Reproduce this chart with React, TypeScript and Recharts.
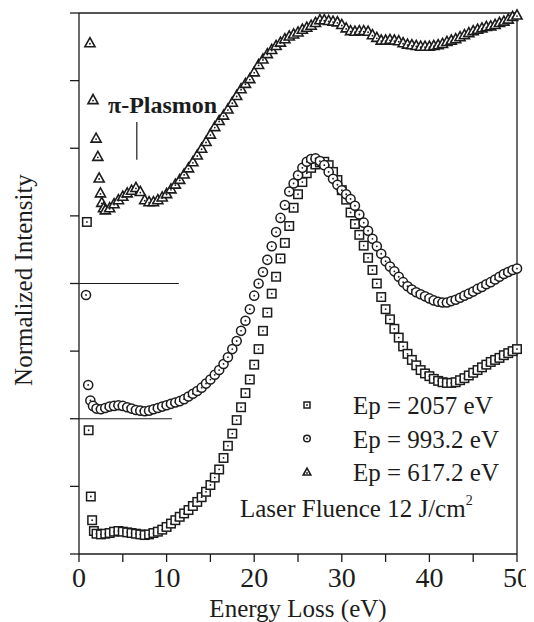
import { ScatterChart, Scatter, XAxis, YAxis, ReferenceLine } from 'recharts';

const FONT = "'Times New Roman', Times, serif";
const INK = '#1c1c1c';

// energy grid (eV) shared by the three spectra
const energyGrid = [
  2, 2.5, 3, 3.5, 4, 4.5, 5, 5.5, 6, 6.5, 7, 7.5, 8, 8.5, 9, 9.5, 10, 10.5, 11, 11.5,
  12, 12.5, 13, 13.5, 14, 14.5, 15, 15.5, 16, 16.5, 17, 17.5, 18, 18.5, 19, 19.5, 20, 20.5, 21, 21.5,
  22, 22.5, 23, 23.5, 24, 24.5, 25, 25.5, 26, 26.5, 27, 27.5, 28, 28.5, 29, 29.5, 30, 30.5, 31, 31.5,
  32, 32.5, 33, 33.5, 34, 34.5, 35, 35.5, 36, 36.5, 37, 37.5, 38, 38.5, 39, 39.5, 40, 40.5, 41, 41.5,
  42, 42.5, 43, 43.5, 44, 44.5, 45, 45.5, 46, 46.5, 47, 47.5, 48, 48.5, 49, 49.5, 50,
];

// Ep = 2057 eV (squares)
const ep2057LeadEnergy = [0.9, 1.1, 1.35, 1.5, 1.7];
const ep2057LeadValues = [4.91, 1.83, 0.85, 0.5, 0.34];
const ep2057Values = [
  0.30, 0.29, 0.30, 0.31, 0.33, 0.34, 0.33, 0.32, 0.31, 0.30,
  0.29, 0.28, 0.29, 0.31, 0.33, 0.36, 0.40, 0.45, 0.50, 0.55,
  0.60, 0.65, 0.71, 0.77, 0.84, 0.92, 1.02, 1.13, 1.25, 1.42,
  1.60, 1.78, 1.98, 2.17, 2.38, 2.58, 2.80, 3.03, 3.30, 3.57,
  3.85, 4.10, 4.37, 4.60, 4.85, 5.12, 5.32, 5.50, 5.63, 5.71,
  5.76, 5.79, 5.80, 5.75, 5.65, 5.53, 5.38, 5.24, 5.05, 4.88,
  4.72, 4.56, 4.38, 4.20, 4.00, 3.80, 3.62, 3.47, 3.33, 3.20,
  3.07, 2.96, 2.87, 2.79, 2.72, 2.67, 2.63, 2.59, 2.56, 2.54,
  2.53, 2.53, 2.54, 2.57, 2.60, 2.64, 2.68, 2.72, 2.76, 2.80,
  2.84, 2.87, 2.90, 2.94, 2.97, 3.00, 3.03,
];

// Ep = 993.2 eV (circles)
const ep993LeadEnergy = [0.8, 1.05, 1.3, 1.6];
const ep993LeadValues = [3.83, 2.5, 2.27, 2.19];
const ep993Values = [
  2.15, 2.14, 2.16, 2.18, 2.19, 2.20, 2.19, 2.17, 2.15, 2.13,
  2.12, 2.11, 2.12, 2.14, 2.16, 2.18, 2.20, 2.22, 2.24, 2.26,
  2.29, 2.33, 2.37, 2.41, 2.46, 2.52, 2.58, 2.65, 2.72, 2.81,
  2.91, 3.03, 3.15, 3.30, 3.45, 3.62, 3.82, 4.00, 4.17, 4.35,
  4.55, 4.76, 4.97, 5.16, 5.36, 5.48, 5.60, 5.71, 5.80, 5.84,
  5.85, 5.81, 5.75, 5.65, 5.55, 5.46, 5.38, 5.32, 5.25, 5.15,
  5.02, 4.90, 4.78, 4.66, 4.55, 4.44, 4.33, 4.25, 4.18, 4.10,
  4.02, 3.96, 3.91, 3.87, 3.84, 3.81, 3.78, 3.75, 3.73, 3.72,
  3.72, 3.74, 3.76, 3.79, 3.82, 3.85, 3.88, 3.92, 3.95, 3.99,
  4.02, 4.06, 4.10, 4.14, 4.17, 4.20, 4.22,
];

// Ep = 617.2 eV (triangles), grid part starts at 3 eV
const ep617LeadEnergy = [1.25, 1.6, 1.95, 2.15, 2.3, 2.45, 2.6, 2.8];
const ep617LeadValues = [7.56, 6.72, 6.15, 5.88, 5.56, 5.34, 5.2, 5.12];
const ep617Values = [
  5.09, 5.12, 5.18, 5.24, 5.29, 5.34, 5.38, 5.42,
  5.36, 5.24, 5.21, 5.21, 5.24, 5.28, 5.33, 5.40, 5.47, 5.54,
  5.62, 5.71, 5.80, 5.90, 6.00, 6.10, 6.21, 6.32, 6.41, 6.49,
  6.58, 6.68, 6.78, 6.88, 6.96, 7.03, 7.13, 7.24, 7.32, 7.40,
  7.46, 7.52, 7.57, 7.62, 7.66, 7.69, 7.72, 7.76, 7.79, 7.82,
  7.86, 7.90, 7.90, 7.89, 7.88, 7.87, 7.83, 7.78, 7.74, 7.73,
  7.74, 7.74, 7.73, 7.68, 7.64, 7.60, 7.60, 7.61, 7.60, 7.59,
  7.56, 7.54, 7.53, 7.52, 7.51, 7.51, 7.51, 7.52, 7.53, 7.55,
  7.58, 7.60, 7.62, 7.65, 7.68, 7.71, 7.74, 7.76, 7.78, 7.80,
  7.81, 7.83, 7.86, 7.88, 7.91, 7.95, 7.97,
];

const xTicks = [0, 5, 10, 15, 20, 25, 30, 35, 40, 45, 50];
const yTicks = [0, 1, 2, 3, 4, 5, 6, 7, 8];

const legendItems = ['Ep = 2057 eV', 'Ep = 993.2 eV', 'Ep = 617.2 eV'];

const toPoints = (xs: number[], ys: number[]) => ys.map((y, i) => ({ x: xs[i], y }));

const squares = toPoints([...ep2057LeadEnergy, ...energyGrid], [...ep2057LeadValues, ...ep2057Values]);
const circles = toPoints([...ep993LeadEnergy, ...energyGrid], [...ep993LeadValues, ...ep993Values]);
const triangles = toPoints([...ep617LeadEnergy, ...energyGrid.slice(2)], [...ep617LeadValues, ...ep617Values]);

function Mark({ kind, cx, cy, s = 8.5 }: { kind: string; cx: number; cy: number; s?: number }) {
  const h = s / 2;
  let outline;
  if (kind === 'square') {
    outline = <rect x={cx - h} y={cy - h} width={s} height={s} fill="#fff" stroke={INK} strokeWidth={1.5} />;
  } else if (kind === 'circle') {
    outline = <circle cx={cx} cy={cy} r={h + 0.3} fill="#fff" stroke={INK} strokeWidth={1.5} />;
  } else {
    const t = h + 0.8;
    outline = (
      <polygon
        points={`${cx},${cy - t} ${cx + t},${cy + t * 0.8} ${cx - t},${cy + t * 0.8}`}
        fill="#fff"
        stroke={INK}
        strokeWidth={1.6}
      />
    );
  }
  return (
    <g>
      {outline}
      <circle cx={cx} cy={kind === 'triangle' ? cy + 1 : cy} r={0.9} fill={INK} />
    </g>
  );
}

const shapeFor = (kind: string) => (props: any) =>
  props.cx == null ? <g /> : <Mark kind={kind} cx={props.cx} cy={props.cy} />;

// the page keeps its 8px body margin, so everything below is in page coords minus 8
export default function App() {
  return (
    <div style={{ position: 'relative', width: 526, height: 614, fontFamily: FONT }}>
      <ScatterChart width={526} height={614} margin={{ top: 5, right: 17, bottom: 0, left: 0 }}>
        <XAxis
          type="number"
          dataKey="x"
          domain={[0, 50]}
          ticks={xTicks}
          interval={0}
          height={68}
          tickSize={8}
          tickMargin={5}
          tickFormatter={(v: number) => (v % 10 === 0 ? String(v) : '')}
          tick={{ fontFamily: FONT, fontSize: 28, fill: INK }}
          tickLine={{ stroke: INK, strokeWidth: 1.3 }}
          axisLine={{ stroke: INK, strokeWidth: 1.3 }}
        />
        <YAxis
          type="number"
          dataKey="y"
          domain={[0, 8]}
          ticks={yTicks}
          interval={0}
          width={71}
          tickSize={9}
          tickFormatter={() => ''}
          tickLine={{ stroke: INK, strokeWidth: 1.3 }}
          axisLine={{ stroke: INK, strokeWidth: 1.3 }}
        />
        <ReferenceLine y={8} stroke={INK} strokeWidth={1.3} />
        <ReferenceLine x={50} stroke={INK} strokeWidth={1.3} />
        <ReferenceLine segment={[{ x: 0, y: 4 }, { x: 11.4, y: 4 }]} stroke={INK} strokeWidth={1.2} />
        <ReferenceLine segment={[{ x: 0, y: 2 }, { x: 10.6, y: 2 }]} stroke={INK} strokeWidth={1.2} />
        <ReferenceLine segment={[{ x: 6.6, y: 5.83 }, { x: 6.6, y: 6.39 }]} stroke={INK} strokeWidth={1.2} />
        <Scatter data={squares} shape={shapeFor('square')} isAnimationActive={false} />
        <Scatter data={circles} shape={shapeFor('circle')} isAnimationActive={false} />
        <Scatter data={triangles} shape={shapeFor('triangle')} isAnimationActive={false} />
      </ScatterChart>

      <svg width={526} height={614} style={{ position: 'absolute', left: 0, top: 0, pointerEvents: 'none' }}>
        <text transform="translate(24,272) rotate(-90)" textAnchor="middle" fontFamily={FONT} fontSize={25} fill={INK}>
          Normalized Intensity
        </text>
        <text x={290} y={609} textAnchor="middle" fontFamily={FONT} fontSize={25} fill={INK}>
          Energy Loss (eV)
        </text>
        <text x={100} y={105} fontFamily={FONT} fontSize={24} fontWeight="bold" fill={INK}>
          π-Plasmon
        </text>
        {legendItems.map((label, i) => (
          <g key={label}>
            <Mark kind={['square', 'circle', 'triangle'][i]} cx={299} cy={397 + i * 33.5} s={6} />
            <text x={345} y={406 + i * 33.5} fontFamily={FONT} fontSize={25} fill={INK}>
              {label}
            </text>
          </g>
        ))}
        <text x={232} y={509} fontFamily={FONT} fontSize={25} fill={INK}>
          Laser Fluence 12 J/cm
          <tspan fontSize={14} dy={-12}>
            2
          </tspan>
        </text>
      </svg>
    </div>
  );
}
